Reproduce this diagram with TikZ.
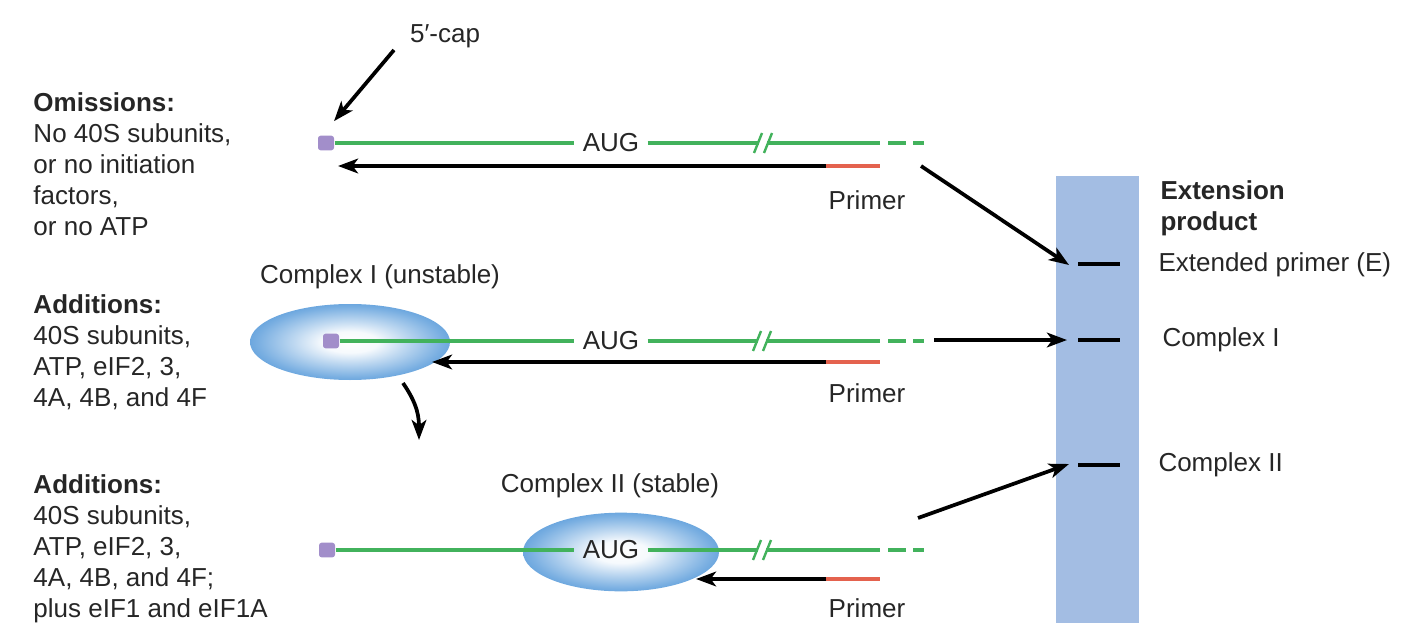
\documentclass[tikz,border=0pt]{standalone}
\usepackage{fontspec}
\setmainfont{Liberation Sans}
\usetikzlibrary{arrows.meta,shapes.geometric,calc}
\tikzset{every picture/.style={line width=0.75pt}}

\definecolor{rnagreen}{RGB}{66,178,92}
\definecolor{primred}{RGB}{228,98,78}
\definecolor{capviolet}{RGB}{162,142,202}
\definecolor{gelblue}{RGB}{163,189,227}
\definecolor{cplxblue}{RGB}{70,144,214}
\pgfdeclareradialshading{cplxshade}{\pgfpoint{0bp}{0bp}}{color(0bp)=(white); color(7bp)=(white!95!cplxblue); color(14bp)=(cplxblue!35!white); color(23bp)=(cplxblue!72!white); color(31bp)=(cplxblue); color(100bp)=(cplxblue)}

\tikzset{
  txt/.style={font=\fontsize{19.5}{23.25}\selectfont, inner sep=0pt, text=black!85},
  rna/.style={draw=rnagreen, line width=2.4pt},
  primer/.style={draw=primred, line width=2.6pt},
  extarrow/.style={draw=black, line width=2.8pt, -{Stealth[length=15pt,width=11pt,inset=4pt]}},
  capbox/.style={fill=capviolet, minimum width=12pt, minimum height=11pt, inner sep=0pt, rounded corners=2pt},
  cplx/.style={ellipse, shading=cplxshade, inner sep=0pt},
  gellane/.style={fill=gelblue, minimum width=62.25pt, minimum height=335.25pt, inner sep=0pt},
  band/.style={draw=black, line width=2.6pt}
}

\begin{document}
\begin{tikzpicture}[x=0.75pt,y=0.75pt,yscale=-1,xscale=1]
\useasboundingbox (0,0) rectangle (1408,638);

%Shape: Gel lane
\node[gellane, anchor=north west] (gel) at (1055,175) {};
%Shape: Complex I
\node[cplx, minimum width=150pt, minimum height=57pt] (cplxI) at (350,342) {};
%Shape: Complex II
\node[cplx, minimum width=147pt, minimum height=59pt] (cplxII) at (621,552) {};

% Caps and AUG
\node[capbox] (cap1) at (326,143) {};
\node[capbox] (cap2) at (331,341) {};
\node[capbox] (cap3) at (327,550) {};
\node[txt, inner xsep=6pt] (aug1) at (611,143) {AUG};
\node[txt, inner xsep=6pt] (aug2) at (611,341) {AUG};
\node[txt, inner xsep=6pt] (aug3) at (611,550) {AUG};
\coordinate (brk1) at (763,143);
\coordinate (brk2) at (762,341);
\coordinate (brk3) at (762,550);
\coordinate (end1) at (880,143);
\coordinate (end2) at (880,341);
\coordinate (end3) at (880,550);

%Straight Lines: mRNA
\foreach \r in {1,2,3}{
  \draw[rna] (cap\r.east) -- (aug\r.west);
  \draw[rna] (aug\r.east) -- ($(brk\r)+(-4,0)$);
  \draw[rna] ($(brk\r)+(4,0)$) -- (end\r);
  \draw[rna, dash pattern=on 13.5pt off 5.25pt] ($(end\r)+(8,0)$) -- ($(end\r)+(44,0)$);
  \draw[rna, line width=1.8pt] ($(brk\r)+(-9,10)$) -- ($(brk\r)+(-1,-10)$);
  \draw[rna, line width=1.8pt] ($(brk\r)+(1,10)$) -- ($(brk\r)+(9,-10)$);
}

%Straight Lines: primers and extension
\coordinate (pr1) at (826,166);
\coordinate (pr2) at (826,362);
\coordinate (pr3) at (826,579);
\coordinate (tip1) at (338,166);
\coordinate (tip2) at (432,362);
\coordinate (tip3) at (696,579);
\foreach \r in {1,2,3}{
  \draw[primer] (pr\r) -- ++(54,0);
  \draw[extarrow] (pr\r) -- (tip\r);
}

% Gel bands
\coordinate (bandE) at (1078,264);
\coordinate (bandI) at (1078,340);
\coordinate (bandII) at (1078,465);
\foreach \b in {bandE,bandI,bandII}
  \draw[band] (\b) -- ++(42,0);

%Straight Lines: to the gel
\coordinate (fromE) at (921,166);
\coordinate (fromI) at (934,340);
\coordinate (fromII) at (918,518);
\draw[extarrow] (fromE) -- ($(bandE)+(-9,1)$);
\draw[extarrow] (fromI) -- ($(bandI)+(-11,0)$);
\draw[extarrow] (fromII) -- ($(bandII)+(-9,-1)$);

% Text Node
\node[txt] (capLbl) at (445,36) {5′-cap};
\coordinate (capFrom) at (394,50);
\draw[extarrow] (capFrom) -- ($(cap1.north)+(8,-14)$);

%Curve Lines: I to II
\coordinate (turnA) at (403,383);
\coordinate (turnB) at (419,440);
\draw[extarrow] (turnA) .. controls (413,398) and (419,410) .. (turnB);

% Text Node
\node[txt] (primer1) at (867,200) {Primer};
\node[txt] (primer2) at (867,393) {Primer};
\node[txt] (primer3) at (867,608) {Primer};
\node[txt] (cIlbl) at (380,277) {Complex I (unstable)};
\node[txt] (cIIlbl) at (610,486) {Complex II (stable)};
% Text Node
\node[txt, align=left, anchor=north west] (omit) at (33,92) {\textbf{Omissions:}\\No 40S subunits,\\or no initiation\\factors,\\or no ATP};
\node[txt, align=left, anchor=north west] (addI) at (33,294) {\textbf{Additions:}\\40S subunits,\\ATP, eIF2, 3,\\4A, 4B, and 4F};
\node[txt, align=left, anchor=north west] (addII) at (33,474) {\textbf{Additions:}\\40S subunits,\\ATP, eIF2, 3,\\4A, 4B, and 4F;\\plus eIF1 and eIF1A};
% Text Node
\node[txt, align=left, anchor=north west, font=\fontsize{19.5}{23.25}\selectfont\bfseries] (gelTtl) at (1160,180) {Extension\\product};
\node[txt, anchor=west] (lblE) at (1158,265) {Extended primer (E)};
\node[txt, anchor=west] (lblI) at (1162,340) {Complex I};
\node[txt, anchor=west] (lblII) at (1158,465) {Complex II};

\end{tikzpicture}
\end{document}
